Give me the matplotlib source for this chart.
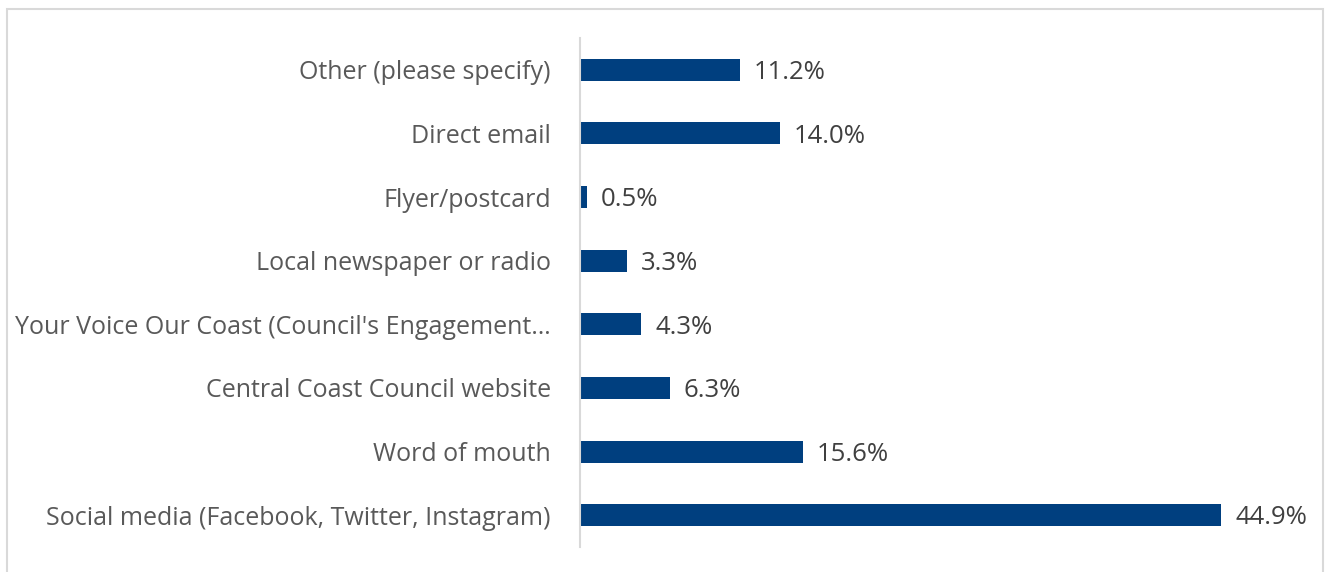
import matplotlib
matplotlib.use("Agg")
import matplotlib.pyplot as plt
from matplotlib.patches import Rectangle

categories = [
    "Social media (Facebook, Twitter, Instagram)",
    "Word of mouth",
    "Central Coast Council website",
    "Your Voice Our Coast (Council's Engagement…",
    "Local newspaper or radio",
    "Flyer/postcard",
    "Direct email",
    "Other (please specify)",
]
values = [44.9, 15.6, 6.3, 4.3, 3.3, 0.5, 14.0, 11.2]
value_labels = ["44.9%", "15.6%", "6.3%", "4.3%", "3.3%", "0.5%", "14.0%", "11.2%"]

plt.rcParams['font.family'] = ['Open Sans', 'DejaVu Sans']

W, H = 1330, 572
fig = plt.figure(figsize=(W / 100, H / 100), dpi=100)
fig.patch.set_facecolor("white")

# outer chart border
fig.patches.append(Rectangle((6.5 / W, -0.1), (1323 - 6.5) / W, 1.1 - 8.5 / H,
                             transform=fig.transFigure, fill=False,
                             edgecolor="#d9d9d9", linewidth=1.5, clip_on=False))

ax = fig.add_axes([580 / W, 25 / H, 714 / W, 509 / H])
y = list(range(len(categories)))
ax.barh(y, values, height=0.345, color="#003f7f")
ax.set_xlim(0, 50)
ax.set_ylim(-0.5, len(categories) - 0.5)
ax.set_yticks(y)
ax.set_yticklabels(categories, fontsize=18, color="#595959")
ax.tick_params(axis="y", length=0, pad=21)
ax.set_xticks([])
for s in ["top", "right", "bottom"]:
    ax.spines[s].set_visible(False)
ax.spines["left"].set_color("#d9d9d9")
ax.spines["left"].set_linewidth(1.5)

for yi, v, lab in zip(y, values, value_labels):
    ax.annotate(lab, (v, yi), xytext=(10, -2), textcoords="offset points",
                va="center", ha="left", fontsize=18.5, color="#404040")

fig.savefig("out.png", dpi=100)
